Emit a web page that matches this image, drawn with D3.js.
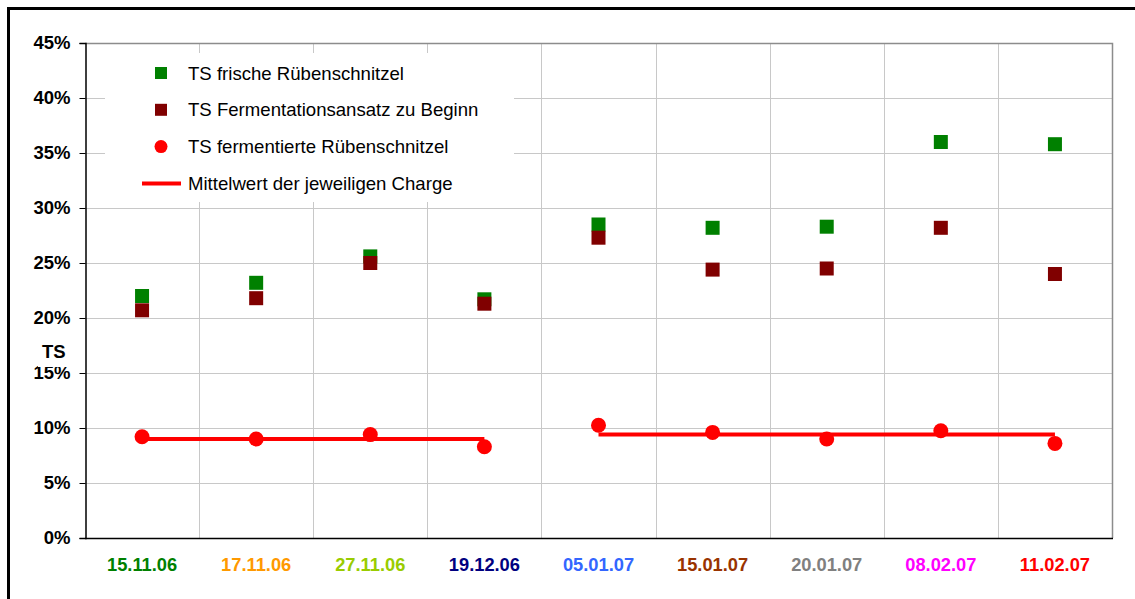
<!DOCTYPE html>
<html>
<head>
<meta charset="utf-8">
<script src="https://cdn.jsdelivr.net/npm/d3@7"></script>
<style>
	body { margin: 0; background: #fff; }
	text { font-family: "Liberation Sans", Arial, sans-serif; }
</style>
</head>
<body>
<svg id="chart" width="1135" height="599"></svg>
<script>

// dates of the samples
const dates = ['15.11.06', '17.11.06', '27.11.06', '19.12.06', '05.01.07', '15.01.07', '20.01.07', '08.02.07', '11.02.07'];
const dateColors = ['#008000', '#ff9900', '#99cc00', '#000080', '#3366ff', '#993300', '#808080', '#ff00ff', '#ff0000'];

// TS values in %
const tsFrisch = [22.0, 23.2, 25.6, 21.7, 28.5, 28.2, 28.3, 36.0, 35.8];
const tsBeginn = [20.7, 21.8, 25.0, 21.3, 27.3, 24.4, 24.5, 28.2, 24.0];
const tsFermentiert = [9.2, 9.0, 9.4, 8.3, 10.25, 9.6, 9.0, 9.75, 8.6];

// mean per charge, from first to last date of the charge
const charges = [
	{from: '15.11.06', to: '19.12.06', mean: 9.0},
	{from: '05.01.07', to: '11.02.07', mean: 9.4}
];

const yTicks = [0, 5, 10, 15, 20, 25, 30, 35, 40, 45];

const legendItems = ['TS frische Rübenschnitzel', 'TS Fermentationsansatz zu Beginn', 'TS fermentierte Rübenschnitzel', 'Mittelwert der jeweiligen Charge'];

const margin = {left: 85, top: 43, right: 1112, bottom: 538};

const svg = d3.select('#chart');

// outer frame
svg.append('rect')
	.attr('x', 8.5).attr('y', 8.5)
	.attr('width', 1140).attr('height', 600)
	.attr('fill', 'none')
	.attr('stroke', '#000')
	.attr('stroke-width', 3);

const x = d3.scaleBand()
	.domain(dates)
	.range([margin.left, margin.right]);

const y = d3.scaleLinear()
	.domain([0, 45])
	.range([margin.bottom, margin.top]);

const cx = d => x(d) + x.bandwidth() / 2;

// grid
const grid = svg.append('g');

grid.selectAll('.hgrid')
	.data(yTicks.slice(1))
	.enter()
	.append('line')
	.attr('x1', margin.left).attr('x2', margin.right)
	.attr('y1', d => Math.round(y(d)) + 0.5)
	.attr('y2', d => Math.round(y(d)) + 0.5)
	.attr('stroke', '#c8c8c8');

grid.selectAll('.vgrid')
	.data(dates.slice(1))
	.enter()
	.append('line')
	.attr('x1', d => Math.round(x(d)) + 0.5)
	.attr('x2', d => Math.round(x(d)) + 0.5)
	.attr('y1', margin.top).attr('y2', margin.bottom)
	.attr('stroke', '#c8c8c8');

// top and right border
svg.append('path')
	.attr('d', `M${margin.left},${margin.top + 0.5}H${margin.right + 0.5}V${margin.bottom}`)
	.attr('fill', 'none')
	.attr('stroke', '#8c8c8c')
	.attr('stroke-width', 1.5);

// y axis
const yAxis = svg.append('g')
	.attr('transform', `translate(${margin.left + 0.5},0)`)
	.call(d3.axisLeft(y).tickValues(yTicks).tickSize(6).tickPadding(9).tickFormat(d => d + '%'));

yAxis.select('.domain').attr('stroke', '#000').attr('stroke-width', 1.5);
yAxis.selectAll('.tick line').attr('stroke', '#000');
yAxis.selectAll('.tick text')
	.attr('fill', '#000')
	.style('font-size', '18.5px')
	.style('font-weight', 'bold')
	.style('font-family', '"Liberation Sans", Arial, sans-serif');

// x axis line
svg.append('line')
	.attr('x1', margin.left).attr('x2', margin.right + 1)
	.attr('y1', margin.bottom + 0.5).attr('y2', margin.bottom + 0.5)
	.attr('stroke', '#000')
	.attr('stroke-width', 1.5);

svg.selectAll('.xlabel')
	.data(dates)
	.enter()
	.append('text')
	.attr('x', d => cx(d))
	.attr('y', 571)
	.attr('text-anchor', 'middle')
	.attr('fill', (d, i) => dateColors[i])
	.style('font-size', '18.3px')
	.style('font-weight', 'bold')
	.text(d => d);

// axis title, its box hides the top of the 15% label
svg.append('rect')
	.attr('x', 38).attr('y', 340)
	.attr('width', 34).attr('height', 27)
	.attr('fill', '#fff');

svg.append('text')
	.attr('x', 42)
	.attr('y', 358)
	.style('font-size', '18.5px')
	.style('font-weight', 'bold')
	.text('TS');

// legend
const legend = svg.append('g');

legend.append('rect')
	.attr('x', 105).attr('y', 53)
	.attr('width', 409).attr('height', 149)
	.attr('fill', '#fff');

legendItems.forEach((t, i) => {

	let ly = 73 + i * 36.8;

	if(i < 2){
		legend.append('rect')
			.attr('x', 155).attr('y', ly - 6)
			.attr('width', 12).attr('height', 12)
			.attr('fill', i == 0 ? '#008000' : '#800000');
	}
	else if(i == 2){
		legend.append('circle')
			.attr('cx', 161).attr('cy', ly)
			.attr('r', 6.5)
			.attr('fill', '#ff0000');
	}
	else{
		legend.append('line')
			.attr('x1', 142).attr('x2', 181)
			.attr('y1', ly).attr('y2', ly)
			.attr('stroke', '#ff0000')
			.attr('stroke-width', 4);
	}

	legend.append('text')
		.attr('x', 188)
		.attr('y', ly + 6.5)
		.attr('fill', '#000')
		.style('font-size', '18.6px')
		.text(t);
});

// mean lines
svg.selectAll('.mean')
	.data(charges)
	.enter()
	.append('line')
	.attr('x1', d => cx(d.from))
	.attr('x2', d => cx(d.to))
	.attr('y1', d => y(d.mean))
	.attr('y2', d => y(d.mean))
	.attr('stroke', '#ff0000')
	.attr('stroke-width', 4);

const sq = 14;

svg.selectAll('.frisch')
	.data(tsFrisch)
	.enter()
	.append('rect')
	.attr('x', (d, i) => cx(dates[i]) - sq / 2)
	.attr('y', d => y(d) - sq / 2)
	.attr('width', sq).attr('height', sq)
	.attr('fill', '#008000');

svg.selectAll('.beginn')
	.data(tsBeginn)
	.enter()
	.append('rect')
	.attr('x', (d, i) => cx(dates[i]) - sq / 2)
	.attr('y', d => y(d) - sq / 2)
	.attr('width', sq).attr('height', sq)
	.attr('fill', '#800000');

svg.selectAll('.ferm')
	.data(tsFermentiert)
	.enter()
	.append('circle')
	.attr('cx', (d, i) => cx(dates[i]))
	.attr('cy', d => y(d))
	.attr('r', 7.5)
	.attr('fill', '#ff0000');

</script>
</body>
</html>
